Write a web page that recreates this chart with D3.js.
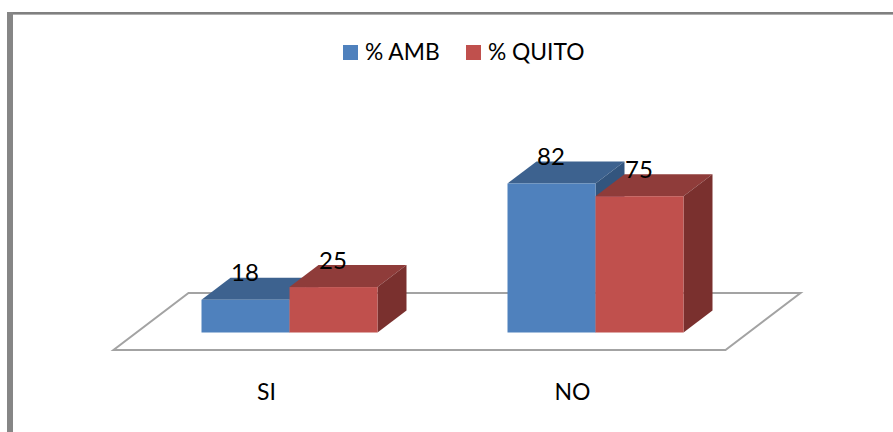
<!DOCTYPE html>
<html>
<head>
<meta charset="utf-8"/>
<script src="https://cdn.jsdelivr.net/npm/d3@7"></script>
<style>
html, body { margin: 0; padding: 0; background: #fff; }
svg { display: block; }
text { font-family: Lato, "Open Sans", sans-serif; fill: #000; }
.tick text { font-size: 23px; }
.label { font-size: 24px; text-anchor: middle; }
.legend text { font-size: 22.8px; }
.floor { fill: #fff; stroke: #a3a3a3; stroke-width: 2; stroke-linejoin: miter; }
</style>
</head>
<body>

<svg id="chart" width="893" height="432"></svg>

<script type='text/javascript'>

var categories = ["SI", "NO"];
var seriesNames = ["% AMB", "% QUITO"];
var amb = [18, 82];
var quito = [25, 75];

var colors = ["#4f81bd", "#c0504d"];
var topColors = ["#3d628f", "#8f3c3a"];
var sideColors = ["#33557e", "#7a302e"];

var svg = d3.select("#chart");

// projected depth of the 3d bars and of the floor
var depthX = 29, depthY = 22, floorDX = 75, floorDY = 57;
var baseY = 332.5, floorY = 350;

var x0 = d3.scaleBand().domain(categories).range([113.5, 725.5]);
var x1 = d3.scaleBand().domain(seriesNames).range([0, 176]);
var y = d3.scaleLinear().domain([0, 82]).range([baseY, 183.5]);

// window frame, only top and left are visible
svg.append("rect").attr("x", 7).attr("y", 12).attr("width", 886).attr("height", 2).attr("fill", "#808080");
svg.append("rect").attr("x", 7).attr("y", 14).attr("width", 886).attr("height", 1).attr("fill", "#b0b0b0");
svg.append("rect").attr("x", 7).attr("y", 12).attr("width", 6).attr("height", 420).attr("fill", "#868686");

// floor
var x0Start = x0.range()[0], x0End = x0.range()[1];
svg.append("path")
    .attr("class", "floor")
    .attr("d", d3.line()([
      [x0Start, floorY], [x0End, floorY],
      [x0End + floorDX, floorY - floorDY], [x0Start + floorDX, floorY - floorDY]
    ]) + "Z");

// category labels
var axis = svg.append("g")
    .attr("transform", "translate(0,392)")
    .call(d3.axisBottom(x0).tickSize(0).tickPadding(0));
axis.select(".domain").remove();
axis.selectAll("text").attr("dy", 0).attr("y", 8);

// bars
var rows = [];
categories.forEach(function(c, i) {
  rows.push({cat: c, s: 0, name: seriesNames[0], value: amb[i]});
  rows.push({cat: c, s: 1, name: seriesNames[1], value: quito[i]});
});

function barLeft(d) {
  return x0(d.cat) + x0.bandwidth() / 2 - 65 + x1(d.name);
}

var bars = svg.append("g").selectAll("g")
    .data(rows)
    .enter().append("g");

bars.append("path")
    .attr("fill", function(d) { return topColors[d.s]; })
    .attr("d", function(d) {
      var l = barLeft(d), r = l + x1.bandwidth(), t = y(d.value);
      return d3.line()([[l, t], [r, t], [r + depthX, t - depthY], [l + depthX, t - depthY]]) + "Z";
    });

bars.append("path")
    .attr("fill", function(d) { return sideColors[d.s]; })
    .attr("d", function(d) {
      var r = barLeft(d) + x1.bandwidth(), t = y(d.value);
      return d3.line()([[r, t], [r + depthX, t - depthY], [r + depthX, baseY - depthY], [r, baseY]]) + "Z";
    });

bars.append("rect")
    .attr("fill", function(d) { return colors[d.s]; })
    .attr("x", barLeft)
    .attr("y", function(d) { return y(d.value); })
    .attr("width", x1.bandwidth())
    .attr("height", function(d) { return baseY - y(d.value); });

// value labels go over all the bars
svg.append("g").selectAll("text")
    .data(rows)
    .enter().append("text")
    .attr("class", "label")
    .attr("x", function(d) { return barLeft(d) + x1.bandwidth() / 2 - 0.5; })
    .attr("y", function(d) { return y(d.value) - 18.5; })
    .text(function(d) { return d.value; });

// legend
var legendX = [343, 466];
var legend = svg.append("g").attr("class", "legend")
    .selectAll("g")
    .data(seriesNames)
    .enter().append("g")
    .attr("transform", function(d, i) { return "translate(" + legendX[i] + ",45)"; });

legend.append("rect")
    .attr("width", 15)
    .attr("height", 15)
    .attr("fill", function(d, i) { return colors[i]; });

legend.append("text")
    .attr("x", 22)
    .attr("y", 15)
    .text(function(d) { return d; });

</script>
</body>
</html>
